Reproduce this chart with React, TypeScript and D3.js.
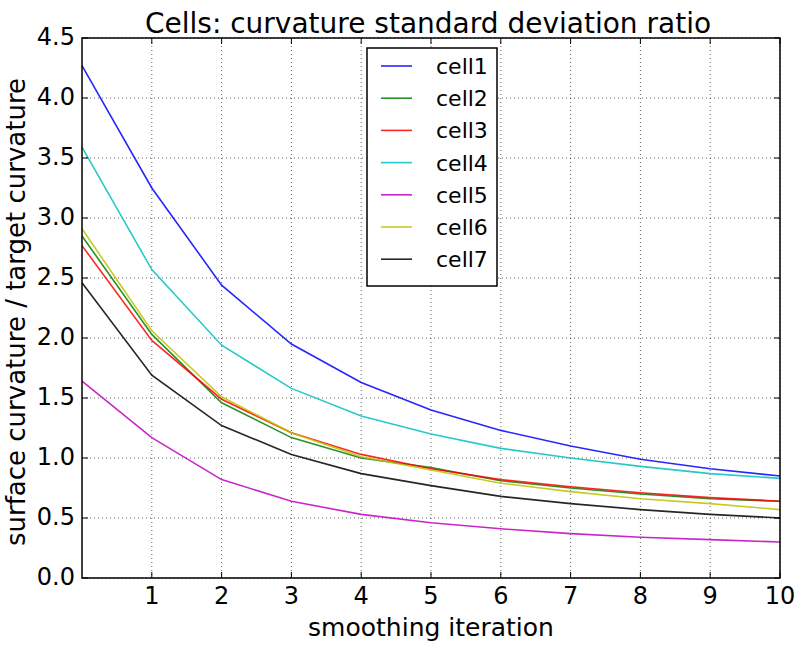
import React from "react";
import * as d3 from "d3";

const iterations = [0, 1, 2, 3, 4, 5, 6, 7, 8, 9, 10];
const seriesNames = ["cell1", "cell2", "cell3", "cell4", "cell5", "cell6", "cell7"];
const cell1 = [4.27, 3.25, 2.44, 1.95, 1.63, 1.40, 1.23, 1.10, 0.99, 0.91, 0.85];
const cell2 = [2.85, 2.03, 1.46, 1.17, 1.00, 0.92, 0.81, 0.75, 0.70, 0.66, 0.64];
const cell3 = [2.77, 1.98, 1.49, 1.21, 1.03, 0.91, 0.82, 0.76, 0.71, 0.67, 0.64];
const cell4 = [3.59, 2.57, 1.94, 1.58, 1.35, 1.20, 1.08, 1.00, 0.93, 0.87, 0.83];
const cell5 = [1.64, 1.17, 0.82, 0.64, 0.53, 0.46, 0.41, 0.37, 0.34, 0.32, 0.30];
const cell6 = [2.91, 2.06, 1.51, 1.21, 1.01, 0.90, 0.79, 0.72, 0.66, 0.62, 0.57];
const cell7 = [2.46, 1.69, 1.27, 1.03, 0.87, 0.77, 0.68, 0.62, 0.57, 0.53, 0.50];
const seriesValues = [cell1, cell2, cell3, cell4, cell5, cell6, cell7];
const colors = ["#0000ff", "#008000", "#ff0000", "#00bfbf", "#bf00bf", "#bfbf00", "#000000"];
const xTicks = [1, 2, 3, 4, 5, 6, 7, 8, 9, 10];
const yTicks = [0, 0.5, 1.0, 1.5, 2.0, 2.5, 3.0, 3.5, 4.0, 4.5];

const W = 800, H = 645;
const L = 82, R = 780, T = 38, B = 578;
const FONT = "DejaVu Sans, sans-serif";

export default function App() {
  const x = d3.scaleLinear().domain([0, 10]).range([L, R]);
  const y = d3.scaleLinear().domain([0, 4.5]).range([B, T]);
  const line = d3.line<number>().x((_, i) => x(iterations[i])).y((d) => y(d));
  const legX = 367, legY = 48, legW = 130, legH = 238;
  return (
    <svg width={W} height={H} style={{ position: "absolute", left: 0, top: 0 }}>
      <rect x={0} y={0} width={W} height={H} fill="#fff" />
      {xTicks.map((t) => (
        <line key={"gx" + t} x1={x(t)} x2={x(t)} y1={T} y2={B} stroke="#000" strokeOpacity={0.6} strokeWidth={1} strokeDasharray="1,3" />
      ))}
      {yTicks.map((t) => (
        <line key={"gy" + t} x1={L} x2={R} y1={y(t)} y2={y(t)} stroke="#000" strokeOpacity={0.6} strokeWidth={1} strokeDasharray="1,3" />
      ))}
      {seriesValues.map((vals, i) => (
        <path key={seriesNames[i]} d={line(vals) || ""} fill="none" stroke={colors[i]} strokeWidth={1.6} strokeOpacity={0.85} />
      ))}
      {xTicks.map((t) => (
        <g key={"tx" + t}>
          <line x1={x(t)} x2={x(t)} y1={B} y2={B - 6} stroke="#000" />
          <line x1={x(t)} x2={x(t)} y1={T} y2={T + 6} stroke="#000" />
          <text x={x(t)} y={B + 26} textAnchor="middle" fontFamily={FONT} fontSize={24} fill="#000">{t}</text>
        </g>
      ))}
      {yTicks.map((t) => (
        <g key={"ty" + t}>
          <line x1={L} x2={L + 6} y1={y(t)} y2={y(t)} stroke="#000" />
          <line x1={R} x2={R - 6} y1={y(t)} y2={y(t)} stroke="#000" />
          <text x={L - 7} y={y(t) + 7} textAnchor="end" fontFamily={FONT} fontSize={24} fill="#000">{t.toFixed(1)}</text>
        </g>
      ))}
      <rect x={L} y={T} width={R - L} height={B - T} fill="none" stroke="#000" strokeWidth={1.5} />
      <rect x={legX} y={legY} width={legW} height={legH} fill="#fff" stroke="#000" strokeWidth={1.5} />
      {seriesNames.map((n, i) => (
        <g key={"lg" + n}>
          <line x1={legX + 14} x2={legX + 45} y1={legY + 18 + i * 32.2} y2={legY + 18 + i * 32.2} stroke={colors[i]} strokeWidth={1.6} strokeOpacity={0.85} />
          <text x={legX + 69} y={legY + 18 + i * 32.2 + 8} fontFamily={FONT} fontSize={22} fill="#000">{n}</text>
        </g>
      ))}
      <text x={(L + R) / 2 - 3} y={33} textAnchor="middle" fontFamily={FONT} fontSize={28} fill="#000">Cells: curvature standard deviation ratio</text>
      <text x={(L + R) / 2} y={636} textAnchor="middle" fontFamily={FONT} fontSize={25} fill="#000">smoothing iteration</text>
      <text transform={`translate(25, ${(T + B) / 2 + 4}) rotate(-90)`} textAnchor="middle" fontFamily={FONT} fontSize={26} fill="#000">surface curvature / target curvature</text>
    </svg>
  );
}
